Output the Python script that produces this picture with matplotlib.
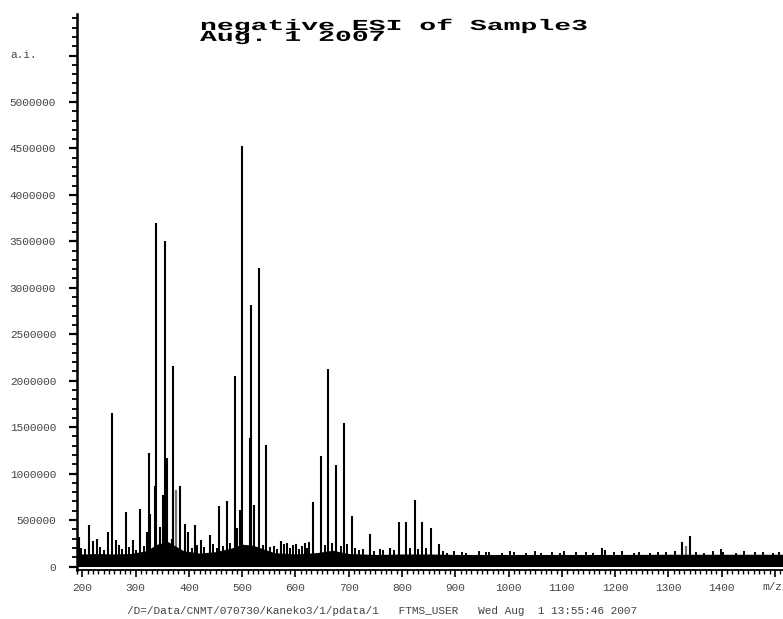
import matplotlib
matplotlib.use("Agg")
import matplotlib.pyplot as plt
from matplotlib import patheffects
from matplotlib.transforms import Affine2D

# main peaks (m/z, intensity)
peak_mz = [193, 213, 220, 227, 248, 255, 264, 282.5, 295, 309, 322, 325, 327.5,
           336, 339, 345.5, 352, 355, 359.5, 368, 370, 384, 392, 399, 411, 422,
           439, 457, 471, 486, 491, 495.5, 500, 514, 517, 522, 531, 545, 573, 584,
           601, 617, 632, 647, 662, 677, 692, 706, 739, 778, 794, 808, 823.5,
           838, 853.5, 868.5, 1175, 1325, 1340.5]
peak_int = [320000, 450000, 270000, 300000, 370000, 1650000, 290000, 590000,
            290000, 620000, 370000, 1220000, 570000, 870000, 3700000, 430000,
            770000, 3500000, 1170000, 300000, 2160000, 870000, 460000, 370000,
            450000, 290000, 340000, 650000, 700000, 2050000, 420000, 610000,
            4530000, 1380000, 2810000, 660000, 3210000, 1310000, 270000, 250000,
            240000, 250000, 690000, 1190000, 2130000, 1090000, 1540000, 540000,
            350000, 200000, 480000, 480000, 720000, 480000, 410000, 240000,
            200000, 260000, 330000]

# weaker, grey looking peaks
grey_mz = [376, 1333]
grey_int = [820000, 220000]

# dense noise band (upper edge)
noise_mz = [191, 200, 230, 260, 290, 320, 340, 360, 375, 390, 420, 450, 480,
            500, 520, 540, 560, 600, 640, 670, 700, 750, 800, 850, 900, 1000,
            1100, 1200, 1300, 1400, 1515]
noise_top = [150000, 135000, 140000, 135000, 140000, 170000, 240000, 270000,
             220000, 170000, 145000, 160000, 200000, 240000, 230000, 190000,
             150000, 135000, 150000, 175000, 140000, 130000, 135000, 135000,
             130000, 130000, 130000, 130000, 132000, 132000, 132000]

# little spikes sticking out of the noise band
small_mz = [197, 205, 233, 240, 268, 275, 288, 300, 315, 405, 416, 428, 445, 452,
            464, 478, 540, 552, 560, 566, 578, 590, 596, 607, 612, 622, 626, 655,
            668, 685, 697, 712, 720, 727, 748, 758, 765, 785, 815, 830, 845, 876,
            884, 897, 913, 921, 944, 958, 963, 987, 1003, 1011, 1032, 1049, 1061,
            1082, 1097, 1104, 1127, 1146, 1158, 1181, 1198, 1213, 1236, 1244,
            1266, 1281, 1296, 1312, 1352, 1367, 1384, 1398, 1403, 1427, 1441,
            1463, 1478, 1497, 1508]
small_int = [200000, 190000, 210000, 180000, 230000, 190000, 210000, 180000,
             220000, 200000, 230000, 210000, 240000, 200000, 220000, 250000,
             230000, 210000, 220000, 190000, 240000, 200000, 230000, 190000,
             220000, 200000, 260000, 230000, 250000, 220000, 240000, 200000,
             180000, 190000, 170000, 190000, 180000, 180000, 200000, 190000,
             200000, 165000, 150000, 172000, 158000, 150000, 168000, 152000,
             160000, 150000, 166000, 155000, 150000, 162000, 148000, 158000,
             150000, 164000, 152000, 160000, 150000, 175000, 152000, 162000,
             150000, 158000, 148000, 160000, 154000, 166000, 155000, 150000,
             162000, 185000, 158000, 150000, 164000, 152000, 160000, 150000,
             158000]

y_ticks = [0, 500000, 1000000, 1500000, 2000000, 2500000, 3000000, 3500000,
           4000000, 4500000, 5000000, 5500000]
y_labels = ["0", "500000", "1000000", "1500000", "2000000", "2500000",
            "3000000", "3500000", "4000000", "4500000", "5000000", ""]
x_ticks = [200, 300, 400, 500, 600, 700, 800, 900, 1000, 1100, 1200, 1300, 1400, 1500]
x_labels = ["200", "300", "400", "500", "600", "700", "800", "900", "1000",
            "1100", "1200", "1300", "1400", ""]

title = "negative ESI of Sample3\nAug. 1 2007"
footer = "/D=/Data/CNMT/070730/Kaneko3/1/pdata/1   FTMS_USER   Wed Aug  1 13:55:46 2007"


class Stretch(patheffects.AbstractPathEffect):
    # widen glyphs horizontally, like the old plotter font
    def __init__(self, sx=1.0):
        super().__init__()
        self.sx = sx

    def draw_path(self, renderer, gc, tpath, affine, rgbFace=None):
        t = Affine2D().scale(self.sx, 1.0) + affine
        renderer.draw_path(gc, tpath, t, rgbFace)


W, H = 783, 619
fig = plt.figure(figsize=(W / 100, H / 100), dpi=100)
ax = fig.add_axes([77 / W, 49.5 / H, 1 - 77 / W, 555.8 / H])

ax.vlines(grey_mz, 0, grey_int, colors="#777777", linewidth=1.6, zorder=0.5)
ax.fill_between(noise_mz, 0, noise_top, color="black", lw=0, zorder=1)
ax.vlines(small_mz, 0, small_int, colors="black", linewidth=1.4, zorder=2)
ax.vlines(peak_mz, 0, peak_int, colors="black", linewidth=1.5, zorder=2)

ax.set_xlim(191.2, 1515)
ax.set_ylim(-32000, 5950000)

for s in ["top", "right"]:
    ax.spines[s].set_visible(False)
ax.spines["left"].set_linewidth(1.8)
ax.spines["bottom"].set_linewidth(1.3)

ax.set_yticks(y_ticks, y_labels)
ax.set_yticks(range(0, 5950000, 100000), minor=True)
ax.set_xticks(x_ticks, x_labels)
ax.set_xticks(range(190, 1515, 10), minor=True)

mono = "Liberation Mono"
ax.tick_params(axis="y", which="major", direction="out", length=6, width=1.6,
               pad=9, labelsize=8, labelcolor="#444444")
ax.tick_params(axis="y", which="minor", direction="out", length=3.5, width=1.3)
ax.tick_params(axis="x", which="major", direction="out", length=5, width=1.2,
               pad=5, labelsize=8, labelcolor="#444444")
ax.tick_params(axis="x", which="minor", direction="out", length=3, width=1.0)
for lab in ax.get_xticklabels() + ax.get_yticklabels():
    lab.set_family(mono)

fig.text(10 / W, 1 - 55.5 / H, "a.i.", ha="left", va="center", family=mono,
         size=8, color="#444444")
fig.text(782 / W, 1 - 587.5 / H, "m/z", ha="right", va="center", family=mono,
         size=8, color="#444444")

fig.text(200 / W, 1 - 19 / H, title, ha="left", va="top", family=mono,
         weight="bold", size=11, linespacing=0.72, path_effects=[Stretch(1.84)])

fig.text(126.7 / W, 1 - 611.5 / H, footer, ha="left", va="center", family=mono,
         size=8, color="#444444")

fig.savefig("out.png", dpi=100)
